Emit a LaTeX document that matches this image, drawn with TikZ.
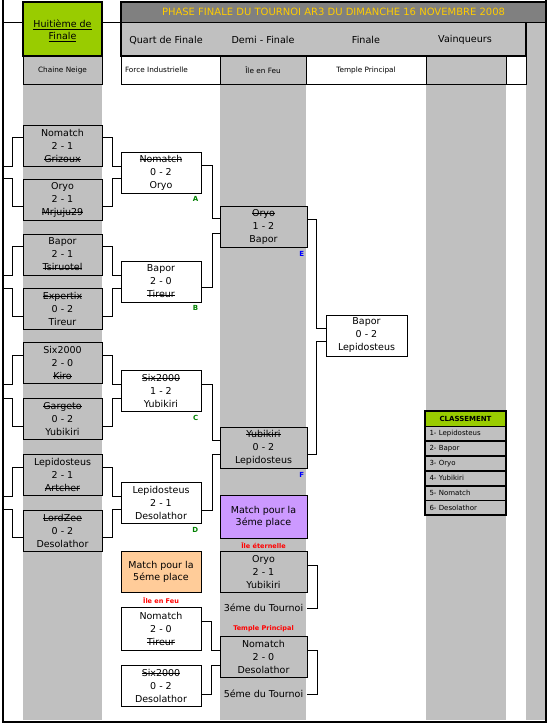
\documentclass[tikz,border=0pt]{standalone}
\usepackage{fontspec}
\setmainfont{DejaVu Sans}
\usetikzlibrary{positioning, calc}

\definecolor{silver}{HTML}{C0C0C0}
\definecolor{hdrgreen}{HTML}{99CC00}
\definecolor{hdrgray}{HTML}{808080}
\definecolor{gold}{HTML}{FFCC00}
\definecolor{lavender}{HTML}{CC99FF}
\definecolor{peach}{HTML}{FFCC99}
\definecolor{tagblue}{HTML}{0000FF}
\definecolor{taggreen}{HTML}{008000}

% struck-out name (loser)
\newsavebox\strikebox
\newcommand\strike[1]{\sbox\strikebox{#1}\rlap{\rule[0.27em]{\wd\strikebox}{0.6pt}}\usebox\strikebox}

\begin{document}
\begin{tikzpicture}[x=1pt, y=-1pt,
    % match box
    match/.style={
        rectangle,
        draw=black,
        line width=0.8pt,
        fill=white,
        minimum width=80pt,
        minimum height=41pt,
        inner sep=0pt,
        align=center,
        font=\fontsize{9.5}{13}\selectfont
    },
    greybox/.style={match, fill=silver},
    wide/.style={minimum width=87pt},
    % header cells
    cell/.style={
        rectangle,
        draw=black,
        line width=0.8pt,
        minimum height=28pt,
        inner sep=0pt,
        font=\fontsize{7.3}{8}\selectfont
    },
    colhead/.style={font=\fontsize{9.6}{11}\selectfont, inner sep=0pt},
    % small labels
    tag/.style={font=\fontsize{7}{8}\selectfont\bfseries, inner sep=0pt},
    venue/.style={font=\fontsize{6.5}{7}\selectfont\bfseries, text=red, inner sep=0pt},
    place/.style={font=\fontsize{9.5}{11}\selectfont, inner sep=0pt, minimum width=87pt},
    % ranking table
    rankrow/.style={
        rectangle,
        draw=black,
        line width=0.8pt,
        fill=silver,
        minimum width=81pt,
        minimum height=14pt,
        text width=72pt,
        inner xsep=4.5pt,
        inner ysep=0pt,
        align=left,
        font=\fontsize{7}{8}\selectfont
    },
    link/.style={draw=black, line width=0.8pt}
]
\useasboundingbox (0,0) rectangle (550,725);

% === Background columns ===
\fill[silver] (23,84) rectangle (102,720);
\fill[silver] (220,84) rectangle (306,720);
\fill[silver] (426,84) rectangle (506,720);
\fill[silver] (526,22) rectangle (546,720);

% === Header ===
\draw[link] (3,22) -- (23,22) (102,22) -- (121,22);
\node[rectangle, draw=black, line width=2pt, fill=hdrgreen, minimum width=79pt,
    minimum height=54pt] (huit) at (62.5,29) {};
\node[align=center, font=\fontsize{9.5}{12}\selectfont, inner sep=0pt] (huittxt) at (62.5,31)
    {\underline{Huitième de}\\\underline{Finale}};

\node[rectangle, draw=black, line width=0.8pt, fill=hdrgray, minimum width=425pt,
    minimum height=20pt, inner sep=0pt] (title) at (333.5,12) {};
\node[font=\fontsize{10}{11}\selectfont, text=gold, inner sep=0pt] (titletxt) at (333.5,12)
    {PHASE FINALE DU TOURNOI AR3 DU DIMANCHE 16 NOVEMBRE 2008};
\node[rectangle, draw=black, line width=0.8pt, fill=silver, minimum width=405pt,
    minimum height=34pt, inner sep=0pt] (rounds) at (323.5,39) {};
\draw[line width=2pt] (title.north east) -- (title.north west) -- (rounds.south west)
    -- (rounds.south east) -- (rounds.north east);

\node[colhead] (hq) at (166,40) {Quart de Finale};
\node[colhead] (hs) at (263,40) {Demi - Finale};
\node[colhead] (hf) at (366,40) {Finale};
\node[colhead] (hv) at (465,40) {Vainqueurs};

\node[cell, fill=silver, minimum width=79pt] (cn) at (62.5,70) {Chaine Neige};
\node[cell, fill=white, minimum width=99pt, text width=91pt, inner xsep=4pt, align=left] (fi) at (170.5,70) {Force Industrielle};
\node[cell, fill=silver, minimum width=86pt] (ief) at (263,70) {Île en Feu};
\node[cell, fill=white, minimum width=120pt] (tpl) at (366,70) {Temple Principal};
\node[cell, fill=silver, minimum width=80pt] (vq) at (466,70) {};
\node[cell, fill=white, minimum width=20pt] (blank) at (516,70) {};

% === Huitiemes ===
\node[greybox, minimum width=79pt] (r1) at (62.5,145.5) {Nomatch\\2 - 1\\\strike{Grizoux}};
\node[greybox, minimum width=79pt] (r2) at (62.5,199.5) {Oryo\\2 - 1\\\strike{Mrjuju29}};
\node[greybox, minimum width=79pt] (r3) at (62.5,254.5) {Bapor\\2 - 1\\\strike{Tsiruotel}};
\node[greybox, minimum width=79pt] (r4) at (62.5,309) {\strike{Expertix}\\0 - 2\\Tireur};
\node[greybox, minimum width=79pt] (r5) at (62.5,363) {Six2000\\2 - 0\\\strike{Kiro}};
\node[greybox, minimum width=79pt] (r6) at (62.5,419) {\strike{Gargeto}\\0 - 2\\Yubikiri};
\node[greybox, minimum width=79pt] (r7) at (62.5,475) {Lepidosteus\\2 - 1\\\strike{Artcher}};
\node[greybox, minimum width=79pt] (r8) at (62.5,530.5) {\strike{LordZee}\\0 - 2\\Desolathor};

% === Quarts ===
\node[match] (qA) at (161,172.5) {\strike{Nomatch}\\0 - 2\\Oryo};
\node[match] (qB) at (161,281.5) {Bapor\\2 - 0\\\strike{Tireur}};
\node[match] (qC) at (161,391) {\strike{Six2000}\\1 - 2\\Yubikiri};
\node[match] (qD) at (161,503) {Lepidosteus\\2 - 1\\Desolathor};

\node[tag, text=taggreen, anchor=north east] (lA) at ([xshift=-3pt,yshift=-3pt]qA.south east) {A};
\node[tag, text=taggreen, anchor=north east] (lB) at ([xshift=-3pt,yshift=-3pt]qB.south east) {B};
\node[tag, text=taggreen, anchor=north east] (lC) at ([xshift=-3pt,yshift=-3pt]qC.south east) {C};
\node[tag, text=taggreen, anchor=north east] (lD) at ([xshift=-3pt,yshift=-3pt]qD.south east) {D};

% === Demis ===
\node[greybox, wide] (sE) at (263.5,226.5) {\strike{Oryo}\\1 - 2\\Bapor};
\node[greybox, wide] (sF) at (263.5,447.5) {\strike{Yubikiri}\\0 - 2\\Lepidosteus};
\node[tag, text=tagblue, anchor=north east] (lE) at ([xshift=-3pt,yshift=-4pt]sE.south east) {E};
\node[tag, text=tagblue, anchor=north east] (lF) at ([xshift=-3pt,yshift=-4pt]sF.south east) {F};

% === Finale ===
\node[match, minimum width=81pt] (fin) at (366.5,335.5) {Bapor\\0 - 2\\Lepidosteus};

% === Petite finale ===
\node[match, wide, fill=lavender, minimum height=43pt, font=\fontsize{9.5}{12}\selectfont] (p3) at (263.5,516.5) {Match pour la\\3éme place};
\node[venue] (v3) at (263.5,546) {Île éternelle};
\node[greybox, wide] (tp) at (263.5,572) {Oryo\\2 - 1\\Yubikiri};
\node[place] (t3) at (263.5,608) {3éme du Tournoi};

% === Match pour la 5eme place ===
\node[match, fill=peach, font=\fontsize{9.5}{12}\selectfont] (p5) at (161,572) {Match pour la\\5éme place};
\node[venue] (v5) at (161,601) {Île en Feu};
\node[match, minimum height=43pt] (m1) at (161,628.5) {Nomatch\\2 - 0\\\strike{Tireur}};
\node[match] (m2) at (161,686) {\strike{Six2000}\\0 - 2\\Desolathor};
\node[venue] (vt) at (263.5,629) {Temple Principal};
\node[greybox, wide] (f5) at (263.5,657) {Nomatch\\2 - 0\\Desolathor};
\node[place] (t5) at (263.5,694) {5éme du Tournoi};

% === Classement ===
\node[rankrow, fill=hdrgreen, minimum height=15pt, align=center, font=\fontsize{7}{8}\selectfont\bfseries] (rank) at (465.5,418.5) {CLASSEMENT};
\node[rankrow, below=0pt of rank] (k1) {1- Lepidosteus};
\node[rankrow, below=0pt of k1] (k2) {2- Bapor};
\node[rankrow, below=0pt of k2] (k3) {3- Oryo};
\node[rankrow, below=0pt of k3] (k4) {4- Yubikiri};
\node[rankrow, below=0pt of k4] (k5) {5- Nomatch};
\node[rankrow, below=0pt of k5] (k6) {6- Desolathor};
\draw[line width=2pt] (rank.north west) rectangle (k6.south east);

% === Brackets ===
\coordinate (edge) at (3,0);
\draw[link] ([yshift=-13pt]r1.north west) -- ++(-10,0) |- (edge |- r1.south);
\draw[link] ([yshift=-28pt]r2.north west) -- ++(-10,0) |- (edge |- r2.north);
\draw[link] ([yshift=-13pt]r3.north west) -- ++(-10,0) |- (edge |- r3.south);
\draw[link] ([yshift=-28pt]r4.north west) -- ++(-10,0) |- (edge |- r4.north);
\draw[link] ([yshift=-13pt]r5.north west) -- ++(-10,0) |- (edge |- r5.south);
\draw[link] ([yshift=-28pt]r6.north west) -- ++(-10,0) |- (edge |- r6.north);
\draw[link] ([yshift=-13pt]r7.north west) -- ++(-10,0) |- (edge |- r7.south);
\draw[link] ([yshift=-28pt]r8.north west) -- ++(-10,0) |- (edge |- r8.north);

\draw[link] ([yshift=-13pt]r1.north east) -- ++(10,0) |- (qA.west |- r1.south);
\draw[link] ([yshift=-28pt]r2.north east) -- ++(10,0) |- (qA.west |- r2.north);
\draw[link] ([yshift=-13pt]r3.north east) -- ++(10,0) |- (qB.west |- r3.south);
\draw[link] ([yshift=-28pt]r4.north east) -- ++(10,0) |- (qB.west |- r4.north);
\draw[link] ([yshift=-13pt]r5.north east) -- ++(10,0) |- (qC.west |- r5.south);
\draw[link] ([yshift=-28pt]r6.north east) -- ++(10,0) |- (qC.west |- r6.north);
\draw[link] ([yshift=-13pt]r7.north east) -- ++(10,0) |- (qD.west |- r7.south);
\draw[link] ([yshift=-28pt]r8.north east) -- ++(10,0) |- (qD.west |- r8.north);

\draw[link] ([yshift=-14pt]qA.north east) -- ++(11,0) |- ([yshift=-13pt]sE.north west);
\draw[link] ([yshift=-27pt]qB.north east) -- ++(11,0) |- ([yshift=-28pt]sE.north west);
\draw[link] ([yshift=-14pt]qC.north east) -- ++(11,0) |- ([yshift=-14pt]sF.north west);
\draw[link] ([yshift=-28pt]qD.north east) -- ++(11,0) |- ([yshift=-28pt]sF.north west);

\draw[link] ([yshift=-14pt]sE.north east) -- ++(9,0) |- ([yshift=-14pt]fin.north west);
\draw[link] ([yshift=-28pt]sF.north east) -- ++(9,0) |- ([yshift=-27pt]fin.north west);

\draw[link] ([yshift=-14pt]tp.north east) -- ++(10,0) |- (t3.east);
\draw[link] ([yshift=-15pt]m1.north east) -- ++(10,0) |- ([yshift=-14pt]f5.north west);
\draw[link] ([yshift=-29pt]m2.north east) -- ++(10,0) |- ([yshift=-29pt]f5.north west);
\draw[link] ([yshift=-14pt]f5.north east) -- ++(10,0) |- (t5.east);

% === Outer frame ===
\draw[line width=2.5pt] (3,0) -- (3,722) -- (546,722) -- (546,0);

\end{tikzpicture}
\end{document}
